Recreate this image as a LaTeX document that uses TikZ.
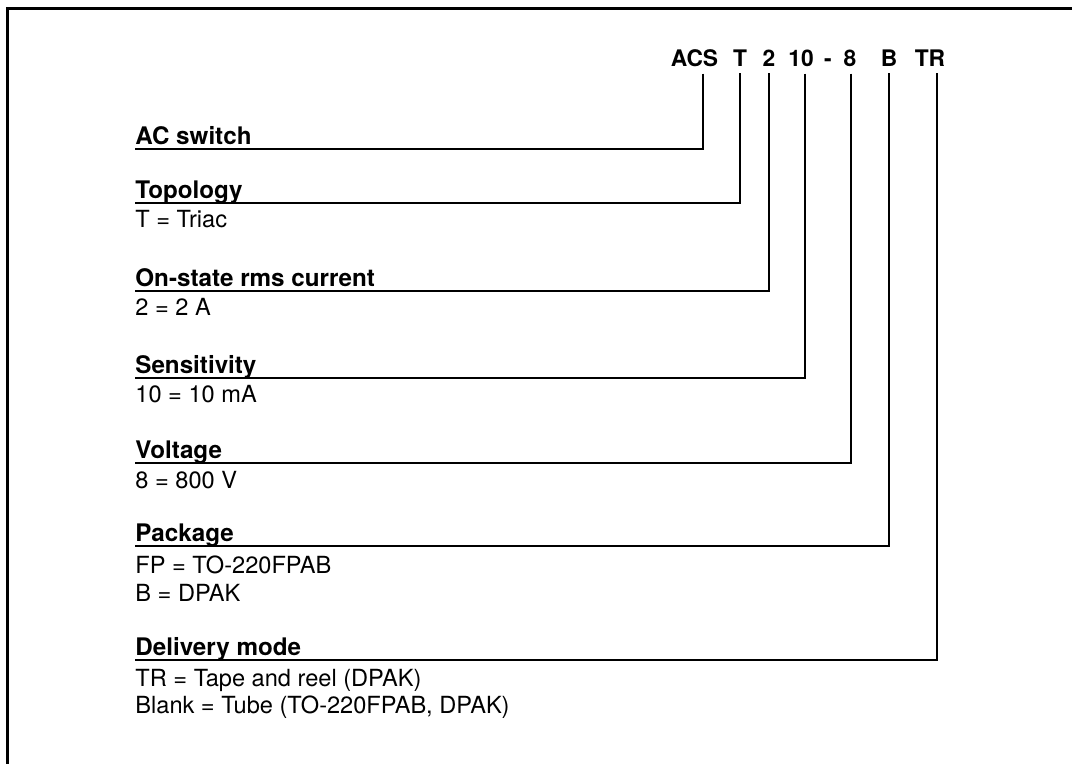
\documentclass[tikz,border=0pt]{standalone}
\usepackage{fontspec}
\setmainfont{TeX Gyre Heros}
\begin{document}
\begin{tikzpicture}[x=0.5pt,y=-0.5pt,font=\fontsize{11.8}{14}\selectfont]
	\tikzset{
		code/.style={font=\fontsize{11.4}{13}\selectfont\bfseries,inner sep=0pt,anchor=base},
		head/.style={font=\fontsize{12.1}{14}\selectfont\bfseries,inner sep=0pt,anchor=base west},
		info/.style={inner sep=0pt,anchor=base west},
		lead/.style={line width=1pt},
	}
	\useasboundingbox (0,0) rectangle (1072,764);
	% frame
	\draw[line width=1.5pt] (1072,9) -- (7,9) -- (7,764);
	% part number
	\node[code] (acs) at (694.5,67) {ACS};
	\node[code] (topo) at (740,67) {T};
	\node[code] (curr) at (769,67) {2};
	\node[code] (sens) at (801,67) {10};
	\node[code] (dash) at (828,67) {-};
	\node[code] (volt) at (850,67) {8};
	\node[code] (pack) at (889,67) {B};
	\node[code] (deli) at (930,67) {TR};
	% fields
	\node[head] (hacs) at (135,145) {AC switch};
	\node[head] (htopo) at (135,199) {Topology};
	\node[info] (itopo) at (135,228) {T = Triac};
	\node[head] (hcurr) at (135,287) {On-state rms current};
	\node[info] (icurr) at (135,316) {2 = 2 A};
	\node[head] (hsens) at (135,374) {Sensitivity};
	\node[info] (isens) at (135,403) {10 = 10 mA};
	\node[head] (hvolt) at (135,459) {Voltage};
	\node[info] (ivolt) at (135,489) {8 = 800 V};
	\node[head] (hpack) at (135,542) {Package};
	\node[info] (ipacka) at (135,574) {FP = TO-220FPAB};
	\node[info] (ipackb) at (135,602) {B = DPAK};
	\node[head] (hdeli) at (135,656) {Delivery mode};
	\node[info] (idelia) at (135,687) {TR = Tape and reel (DPAK)};
	\node[info] (ideli) at (135,713) {Blank = Tube (TO-220FPAB, DPAK)};
	\path
	(135,149) coordinate (lacs)
	(135,203) coordinate (ltopo)
	(135,291) coordinate (lcurr)
	(135,378) coordinate (lsens)
	(135,463) coordinate (lvolt)
	(135,546) coordinate (lpack)
	(135,660) coordinate (ldeli);
	% leads
	\draw[lead] ([xshift=4.25pt,yshift=-3pt]acs.south) |- (lacs);
	\draw[lead] ([yshift=-3pt]topo.south) |- (ltopo);
	\draw[lead] ([yshift=-3pt]curr.south) |- (lcurr);
	\draw[lead] ([xshift=2pt,yshift=-3pt]sens.south) |- (lsens);
	\draw[lead] ([xshift=0.5pt,yshift=-3pt]volt.south) |- (lvolt);
	\draw[lead] ([yshift=-3pt]pack.south) |- (lpack);
	\draw[lead] ([xshift=3.5pt,yshift=-3pt]deli.south) |- (ldeli);
\end{tikzpicture}
\end{document}
